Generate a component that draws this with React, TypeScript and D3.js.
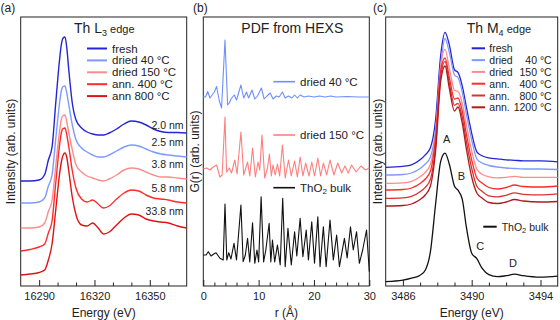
import { useEffect, useRef } from "react";
import * as d3 from "d3";

const FONT = "'Liberation Sans', Arial, Helvetica, sans-serif";

// ── (a) Th L3 edge XANES (normalised, stacked with offsets) ──────────────
const L3_ENERGY = [16280, 16285, 16290, 16293, 16295, 16297, 16299, 16301, 16302, 16303, 16304, 16305, 16306, 16308, 16310, 16313, 16316, 16319, 16322, 16325, 16328, 16332, 16336, 16340, 16344, 16348, 16352, 16356, 16360, 16365, 16370];
const L3_FRESH = [0, 0, 0.02, 0.13, 0.42, 0.68, 1.56, 2.4, 2.72, 2.86, 2.88, 2.66, 2.25, 1.55, 1.22, 1.06, 0.98, 0.94, 0.92, 0.92, 0.96, 1.04, 1.14, 1.2, 1.18, 1.12, 1.04, 0.99, 0.97, 0.97, 0.96];
const L3_DRIED40 = [0, 0, 0.02, 0.1, 0.34, 0.56, 1.28, 1.98, 2.24, 2.33, 2.34, 2.2, 1.98, 1.56, 1.26, 1.1, 1.02, 0.96, 0.92, 0.92, 0.96, 1.04, 1.12, 1.16, 1.14, 1.08, 1.02, 0.98, 0.96, 0.94, 0.92];
const L3_DRIED150 = [0, 0, 0.02, 0.1, 0.33, 0.55, 1.24, 1.92, 2.17, 2.25, 2.26, 2.12, 1.92, 1.56, 1.26, 1.12, 1.04, 1.0, 0.96, 0.94, 0.98, 1.06, 1.16, 1.2, 1.18, 1.12, 1.06, 1.02, 1.02, 1.0, 0.98];
const L3_ANN400 = [0, 0.03, 0.08, 0.14, 0.36, 0.6, 1.36, 2.1, 2.36, 2.45, 2.46, 2.32, 2.1, 1.6, 1.25, 1.04, 0.98, 1.02, 0.94, 0.86, 0.9, 1.04, 1.16, 1.22, 1.2, 1.12, 1.06, 1.04, 1.02, 0.98, 0.96];
const L3_ANN800 = [0, 0.02, 0.05, 0.1, 0.3, 0.62, 1.3, 2.0, 2.25, 2.4, 2.44, 2.35, 2.1, 1.55, 1.2, 1.0, 0.98, 1.04, 0.94, 0.82, 0.86, 1.0, 1.14, 1.22, 1.2, 1.12, 1.08, 1.06, 1.04, 0.98, 0.94];
const L3_OFFSETS = [2.1, 1.66, 1.16, 0.7, 0.22];
const L3_LABELS = ["fresh", "dried 40 °C", "dried 150 °C", "ann. 400 °C", "ann 800 °C"];
const L3_SIZES = ["2.0 nm", "2.5 nm", "3.8 nm", "5.8 nm", "33.8 nm"];
const L3_SIZE_AT = [3.23, 2.88, 2.44, 1.96, 1.51]; // intensity level where each size label sits
const L3_COLORS = ["#2424d6", "#7d9bff", "#ff8c8c", "#ff2a2a", "#dc1414"];

// ── (b) PDF from HEXS: [r (Å), G(r)] vertices ────────────────────────────
const PDF_DRIED40: [number, number][] = [
  [0, 0], [0.4, -0.03], [0.8, 0.52], [1.2, -0.13], [1.6, 0.17], [2.0, 0.47], [2.4, 1.02], [2.9, -0.43],
  [3.3, -1.13], [3.92, 5.67], [4.4, -0.83], [4.7, -0.63], [5.0, -0.23], [5.6, 0.17], [6.0, -0.33],
  [6.8, 1.17], [7.3, -0.13], [7.8, 0.47], [8.2, -0.13], [8.8, 0.67], [9.3, -0.23], [9.8, 0.07],
  [10.5, 0.87], [11.0, -0.23], [11.5, 0.07], [12.1, 0.37], [12.6, -0.23], [13.2, 0.07], [13.7, -0.03],
  [14.3, 0.47], [14.8, -0.13], [15.4, 0.07], [16.0, -0.13], [16.5, 0.17], [17.0, -0.13], [17.5, 0.17],
  [18.2, -0.03], [19.0, 0.07], [20.0, -0.03], [21.0, 0.07], [22.0, -0.03], [23.0, 0.07], [24.0, -0.03],
  [26.0, 0.02], [28.0, -0.03], [30.0, -0.03],
];
const PDF_DRIED150: [number, number][] = [
  [0, 0], [0.6, 0.1], [1.2, -0.1], [1.8, 0.2], [2.4, 0.4], [3.0, -0.8], [3.4, -0.6], [3.92, 5.2],
  [4.2, -0.3], [4.7, 0.1], [5.1, -0.4], [5.7, 0.9], [6.1, -0.5], [6.8, 3.7], [7.3, -0.6], [8.0, 0.7],
  [8.4, -0.7], [8.9, 2.1], [9.4, -0.8], [9.9, 0.7], [10.2, -0.1], [10.6, 3.4], [11.1, -0.9], [11.6, 0.1],
  [11.95, 1.5], [12.3, -0.7], [12.6, 0.4], [13.0, -0.6], [13.4, 0.5], [13.8, -0.7], [14.3, 2.4],
  [14.8, -0.9], [15.4, 0.9], [15.9, -0.7], [16.5, 0.8], [17.0, -0.8], [17.5, 1.2], [18.0, -0.7],
  [18.5, 0.6], [19.1, -0.7], [19.6, 0.7], [20.1, -0.7], [20.7, 1.1], [21.2, -0.7], [21.7, 0.6],
  [22.3, -0.6], [22.9, 0.9], [23.6, -0.6], [24.3, 0.6], [25.0, -0.4], [25.6, 0.3], [26.2, -0.4],
  [26.8, 0.4], [27.6, -0.3], [28.5, 0.3], [29.3, -0.1], [30.0, 0.1],
];
const PDF_BULK: [number, number][] = [
  [0, 0.3], [0.5, 0.3], [0.9, 0.63], [1.4, 0.2], [1.9, 0.4], [2.3, 0.53], [3.0, -0.03], [3.6, -0.2],
  [3.92, 5.4], [4.25, -0.2], [4.6, 0.53], [5.0, -0.1], [5.55, 1.47], [6.0, -0.2], [6.8, 5.3], [7.2, -0.37],
  [7.6, 0.3], [8.0, 1.97], [8.4, -0.4], [8.9, 3.53], [9.3, -0.53], [9.7, 0.8], [10.0, -0.4], [10.45, 6.13],
  [10.9, -0.4], [11.3, 0.8], [11.9, 3.47], [12.2, -0.4], [12.5, 1.8], [12.9, -0.4], [13.4, 1.3],
  [13.9, -0.7], [14.35, 5.97], [14.8, -0.87], [15.3, 2.97], [15.9, -0.7], [16.5, 2.63], [16.9, 0.2],
  [17.5, 3.97], [18.0, 0.13], [18.6, 2.8], [19.0, -0.2], [19.6, 3.63], [20.1, -0.53], [20.7, 4.13],
  [21.1, -0.87], [21.7, 3.13], [22.2, -0.87], [22.9, 3.8], [23.5, -0.2], [24.1, 2.3], [24.6, -0.87],
  [25.5, 1.97], [26.0, 0], [26.6, 3.13], [27.1, 0.8], [27.7, 2.63], [28.2, -0.53], [28.8, 0.8],
  [29.5, 2.8], [30.0, -1.37],
];
const PDF_OFFSETS = [18.93, 11.7, 2.8];
const PDF_LABELS = ["dried 40 °C", "dried 150 °C", "ThO2 bulk"];
const PDF_COLORS = ["#6f8fff", "#ff7f7f", "#111111"];

// ── (c) Th M4 edge HERFD-XANES ────────────────────────────────────────────
const M4_ENERGY = [3485, 3486, 3486.5, 3487, 3487.3, 3487.6, 3487.9, 3488.2, 3488.45, 3488.7, 3489.0, 3489.2, 3489.45, 3489.7, 3490.0, 3490.3, 3490.6, 3491.0, 3491.5, 3492.0, 3492.5, 3493.0, 3494.0, 3495.0];
const M4_FRESH = [0, 0.02, 0.05, 0.15, 0.25, 0.39, 0.95, 2.25, 2.7, 2.45, 1.95, 1.9, 1.63, 1.19, 0.68, 0.31, 0.23, 0.19, 0.17, 0.15, 0.14, 0.13, 0.13, 0.11];
const M4_DRIED40 = [0, 0.01, 0.04, 0.13, 0.22, 0.36, 0.9, 2.2, 2.73, 2.45, 2.0, 1.95, 1.66, 1.2, 0.7, 0.32, 0.24, 0.19, 0.16, 0.14, 0.13, 0.12, 0.12, 0.11];
const M4_DRIED150 = [0, 0.01, 0.04, 0.13, 0.22, 0.38, 1.0, 2.35, 2.68, 2.3, 1.86, 1.84, 1.6, 1.15, 0.65, 0.28, 0.18, 0.13, 0.11, 0.12, 0.14, 0.12, 0.12, 0.12];
const M4_ANN400 = [0, 0.01, 0.04, 0.13, 0.22, 0.38, 1.05, 2.4, 2.64, 2.25, 1.82, 1.84, 1.58, 1.1, 0.6, 0.24, 0.14, 0.05, 0.02, 0.05, 0.1, 0.07, 0.06, 0.08];
const M4_ANN800 = [0, 0.01, 0.04, 0.13, 0.22, 0.38, 1.05, 2.45, 2.74, 2.3, 1.86, 1.9, 1.62, 1.12, 0.6, 0.24, 0.14, 0.05, 0.03, 0.06, 0.11, 0.08, 0.07, 0.09];
const M4_ANN1200 = [0, 0.01, 0.04, 0.13, 0.22, 0.4, 1.1, 2.5, 2.8, 2.35, 1.9, 1.98, 1.66, 1.12, 0.58, 0.26, 0.16, 0.07, 0.05, 0.08, 0.13, 0.1, 0.08, 0.09];
const M4_BULK = [0, 0.03, 0.07, 0.13, 0.23, 0.6, 1.55, 2.41, 2.57, 2.35, 1.91, 1.83, 1.65, 1.07, 0.57, 0.46, 0.27, 0.14, 0.1, 0.12, 0.15, 0.12, 0.09, 0.11];
const M4_OFFSETS = [2.374, 2.22, 2.054, 1.92, 1.754, 1.6, 0.086];
const M4_LABELS: [string, string][] = [["fresh", ""], ["dried", "40 °C"], ["dried", "150 °C"], ["ann.", "400 °C"], ["ann.", "800 °C"], ["ann.", "1200 °C"]];
const M4_COLORS = ["#2424d6", "#7d9bff", "#ff8c8c", "#ff2a2a", "#d83232", "#ad1c1c", "#111111"];
const M4_FEATURES: [string, number, number][] = [["A", 3488.55, 2.85], ["B", 3489.4, 2.12], ["C", 3490.5, 0.72], ["D", 3492.4, 0.37]];

const TOP = 17;
const BOTTOM = 286;

type G = d3.Selection<SVGGElement, unknown, null, undefined>;

function frameAndAxis(
  g: G, x: d3.ScaleLinear<number, number>, major: number[], minor: number[],
  title: string, yTitle: string, yTitleX: number, letter: string, letterX: number,
) {
  const [x0, x1] = x.range();
  g.append("g").attr("transform", `translate(0,${BOTTOM})`)
    .call(d3.axisBottom(x).tickValues(minor).tickSize(-3.5).tickFormat(() => ""))
    .call((a) => a.select(".domain").remove())
    .call((a) => a.selectAll("line").attr("stroke", "#222"));
  g.append("g").attr("transform", `translate(0,${BOTTOM})`)
    .call(d3.axisBottom(x).tickValues(major).tickSize(-6).tickPadding(6).tickFormat(d3.format("d")))
    .call((a) => a.select(".domain").remove())
    .call((a) => a.selectAll("line").attr("stroke", "#222"))
    .call((a) => a.selectAll("text").attr("font-size", 11).attr("font-family", FONT).attr("fill", "#222"));
  g.append("rect")
    .attr("x", x0).attr("y", TOP).attr("width", x1 - x0).attr("height", BOTTOM - TOP)
    .attr("fill", "none").attr("stroke", "#222").attr("stroke-width", 1);
  g.append("text").attr("x", (x0 + x1) / 2).attr("y", 313).attr("text-anchor", "middle")
    .attr("dominant-baseline", "central").attr("font-size", 12).attr("font-family", FONT).attr("fill", "#222")
    .text(title);
  g.append("text").attr("transform", `translate(${yTitleX},${(TOP + BOTTOM) / 2}) rotate(-90)`)
    .attr("text-anchor", "middle").attr("dominant-baseline", "central")
    .attr("font-size", 12).attr("font-family", FONT).attr("fill", "#222").text(yTitle);
  g.append("text").attr("x", letterX).attr("y", 12).attr("font-size", 12)
    .attr("font-family", FONT).attr("fill", "#222").text(letter);
}

function subTitle(g: G, x: number, main: string, sub: string, rest: string, anchor = "start") {
  const t = g.append("text").attr("x", x).attr("y", 33).attr("text-anchor", anchor)
    .attr("font-family", FONT).attr("fill", "#222");
  t.append("tspan").attr("font-size", 14).text(main);
  if (sub) t.append("tspan").attr("font-size", 9).attr("dy", 3).text(sub);
  if (rest) t.append("tspan").attr("font-size", 11).attr("dy", sub ? -3 : 0).text(rest);
}

export default function App() {
  const svgRef = useRef<SVGSVGElement>(null);

  useEffect(() => {
    document.body.style.margin = "0";
    const svg = d3.select(svgRef.current);
    svg.selectAll("*").remove();
    const root = svg.append("g") as G;

    // ── (a) ──
    const xa = d3.scaleLinear().domain([16280, 16370]).range([20.7, 186.7]);
    const ya = d3.scaleLinear().domain([0, 5.38]).range([BOTTOM, TOP]);
    const ga = root.append("g") as G;
    frameAndAxis(ga, xa, [16290, 16320, 16350], [16300, 16310, 16330, 16340, 16360],
      "Energy (eV)", "Intensity (arb. units)", 11, "(a)", 0.5);
    const l3 = [L3_FRESH, L3_DRIED40, L3_DRIED150, L3_ANN400, L3_ANN800];
    l3.forEach((vals, i) => {
      const line = d3.line<number>()
        .x((_, j) => xa(L3_ENERGY[j]))
        .y((v) => ya(v + L3_OFFSETS[i]))
        .curve(d3.curveMonotoneX);
      ga.append("path").attr("d", line(vals)).attr("fill", "none")
        .attr("stroke", L3_COLORS[i]).attr("stroke-width", 1.4);
      // particle size label above the tail
      ga.append("text").attr("x", 183.5).attr("y", ya(L3_SIZE_AT[i]))
        .attr("text-anchor", "end").attr("dominant-baseline", "central")
        .attr("font-size", 10.5).attr("font-family", FONT).attr("fill", "#222")
        .text(L3_SIZES[i]);
    });
    subTitle(ga, 74, "Th L", "3", " edge");
    L3_LABELS.forEach((lab, i) => {
      const yy = 48.5 + i * 11.9;
      ga.append("line").attr("x1", 87).attr("x2", 107).attr("y1", yy).attr("y2", yy)
        .attr("stroke", L3_COLORS[i]).attr("stroke-width", 2);
      ga.append("text").attr("x", 112).attr("y", yy).attr("dominant-baseline", "central")
        .attr("font-size", 11.5).attr("font-family", FONT).attr("fill", "#222").text(lab);
    });

    // ── (b) ──
    const xb = d3.scaleLinear().domain([0, 30]).range([203.3, 369.3]);
    const yb = d3.scaleLinear().domain([0, 26.9]).range([BOTTOM, TOP]);
    const gb = root.append("g") as G;
    frameAndAxis(gb, xb, [0, 10, 20, 30], [2, 4, 6, 8, 12, 14, 16, 18, 22, 24, 26, 28],
      "r (Å)", "G(r) (arb. units)", 195, "(b)", 193);
    [PDF_DRIED40, PDF_DRIED150, PDF_BULK].forEach((pts, i) => {
      const line = d3.line<[number, number]>()
        .x((d) => xb(d[0]))
        .y((d) => yb(d[1] + PDF_OFFSETS[i]));
      gb.append("path").attr("d", line(pts)).attr("fill", "none")
        .attr("stroke", PDF_COLORS[i]).attr("stroke-width", 1.1).attr("stroke-linejoin", "round");
    });
    subTitle(gb, 292.3, "PDF from HEXS", "", "", "middle");
    [81.7, 135, 187.7].forEach((yy, i) => {
      gb.append("line").attr("x1", 273.3).attr("x2", 295).attr("y1", yy).attr("y2", yy)
        .attr("stroke", PDF_COLORS[i]).attr("stroke-width", 1.6);
      const t = gb.append("text").attr("x", 300).attr("y", yy).attr("dominant-baseline", "central")
        .attr("font-size", 11.5).attr("font-family", FONT).attr("fill", "#222");
      if (i === 2) {
        t.append("tspan").text("ThO");
        t.append("tspan").attr("font-size", 8).attr("dy", 3).text("2");
        t.append("tspan").attr("dy", -3).text(" bulk");
      } else t.text(PDF_LABELS[i]);
    });

    // ── (c) ──
    const xc = d3.scaleLinear().domain([3485, 3495]).range([385.7, 557.7]);
    const yc = d3.scaleLinear().domain([0, 5.38]).range([BOTTOM, TOP]);
    const gc = root.append("g") as G;
    frameAndAxis(gc, xc, [3486, 3490, 3494], [3487, 3488, 3489, 3491, 3492, 3493],
      "Energy (eV)", "Intensity (arb. units)", 378, "(c)", 373);
    const m4 = [M4_FRESH, M4_DRIED40, M4_DRIED150, M4_ANN400, M4_ANN800, M4_ANN1200, M4_BULK];
    m4.forEach((vals, i) => {
      const line = d3.line<number>()
        .x((_, j) => xc(M4_ENERGY[j]))
        .y((v) => yc(v + M4_OFFSETS[i]))
        .curve(d3.curveMonotoneX);
      gc.append("path").attr("d", line(vals)).attr("fill", "none")
        .attr("stroke", M4_COLORS[i]).attr("stroke-width", 1.3);
    });
    subTitle(gc, 466.7, "Th M", "4", " edge");
    M4_LABELS.forEach(([a, b], i) => {
      const yy = 48.3 + i * 11.8;
      gc.append("line").attr("x1", 471.7).attr("x2", 485).attr("y1", yy).attr("y2", yy)
        .attr("stroke", M4_COLORS[i]).attr("stroke-width", 2);
      gc.append("text").attr("x", 489.3).attr("y", yy).attr("dominant-baseline", "central")
        .attr("font-size", 10.5).attr("font-family", FONT).attr("fill", "#222").text(a);
      if (b) gc.append("text").attr("x", 551.7).attr("y", yy).attr("dominant-baseline", "central")
        .attr("text-anchor", "end").attr("font-size", 10.5).attr("font-family", FONT).attr("fill", "#222").text(b);
    });
    gc.append("line").attr("x1", 483.3).attr("x2", 496.7).attr("y1", 226.7).attr("y2", 226.7)
      .attr("stroke", "#111").attr("stroke-width", 2);
    const tb = gc.append("text").attr("x", 501.7).attr("y", 226.7).attr("dominant-baseline", "central")
      .attr("font-size", 10.5).attr("font-family", FONT).attr("fill", "#222");
    tb.append("tspan").text("ThO");
    tb.append("tspan").attr("font-size", 7.5).attr("dy", 3).text("2");
    tb.append("tspan").attr("dy", -3).text(" bulk");
    M4_FEATURES.forEach(([lab, e, v]) => {
      gc.append("text").attr("x", xc(e)).attr("y", yc(v + M4_OFFSETS[6])).attr("text-anchor", "middle")
        .attr("dominant-baseline", "central").attr("font-size", 11).attr("font-family", FONT)
        .attr("fill", "#222").text(lab);
    });
  }, []);

  return <svg ref={svgRef} width={560} height={320} style={{ display: "block", background: "#fff" }} />;
}
